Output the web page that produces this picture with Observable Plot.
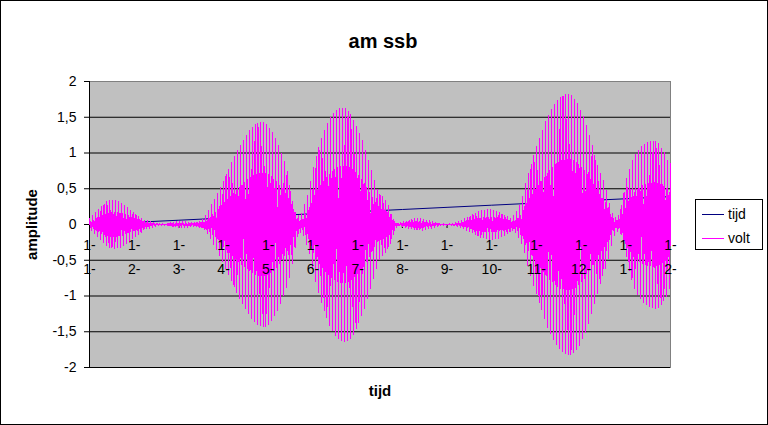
<!DOCTYPE html>
<html><head><meta charset="utf-8">
<script src="https://cdn.jsdelivr.net/npm/d3@7"></script>
<script src="https://cdn.jsdelivr.net/npm/@observablehq/plot@0.6"></script>
<style>
body{margin:0;background:#fff;}
#chart{width:768px;height:425px;}
</style></head><body><div id="chart"></div>
<script>
const chartTitle = "am ssb";
const xTitle = "tijd";
const yTitle = "amplitude";
const seriesNames = ["tijd", "volt"];
const seriesColors = ["#000080", "#ff00ff"];
const tickLabelsTop = ["1-","1-","1-","1-","1-","1-","1-","1-","1-","1-","1-","1-","1-","1-"];
const tickLabelsBottom = ["1-","2-","3-","4-","5-","6-","7-","8-","9-","10-","11-","12-","1-","2-"];
const yTicks = [-2, -1.5, -1, -0.5, 0, 0.5, 1, 1.5, 2];
// tijd read at each category tick
const tijdAtTicks = [0, 0.03, 0.06, 0.09, 0.12, 0.15, 0.18, 0.21, 0.24, 0.27, 0.30, 0.33, 0.36, 0.39];
// volt: peak amplitude read at each tall spike across the plot
const voltEnvelope = [
0.08,0.12,0.17,0.21,0.26,0.29,0.32,0.33,0.34,0.33,
0.32,0.30,0.27,0.24,0.20,0.17,0.14,0.11,0.08,0.06,
0.05,0.04,0.03,0.02,0.01,0.01,0.01,0.02,0.03,0.03,
0.04,0.04,0.04,0.04,0.03,0.03,0.03,0.04,0.05,0.07,
0.13,0.20,0.28,0.35,0.43,0.52,0.61,0.70,0.78,0.87,
0.95,1.03,1.11,1.18,1.25,1.31,1.36,1.40,1.42,1.43,
1.43,1.40,1.35,1.28,1.20,1.10,1.00,0.88,0.74,0.55,
0.33,0.17,0.12,0.15,0.28,0.40,0.60,0.80,0.95,1.09,
1.21,1.31,1.41,1.49,1.55,1.59,1.62,1.63,1.62,1.59,
1.54,1.46,1.37,1.27,1.17,1.03,0.90,0.76,0.62,0.49,
0.43,0.39,0.34,0.27,0.14,0.04,0.02,0.03,0.04,0.05,
0.06,0.07,0.08,0.08,0.08,0.07,0.06,0.05,0.04,0.03,
0.02,0.01,0.01,0.00,0.01,0.02,0.03,0.04,0.06,0.08,
0.10,0.12,0.14,0.16,0.18,0.19,0.20,0.21,0.21,0.20,
0.19,0.17,0.15,0.13,0.11,0.09,0.12,0.18,0.27,0.39,
0.58,0.72,0.85,0.97,1.09,1.20,1.32,1.44,1.53,1.61,
1.68,1.74,1.78,1.80,1.82,1.82,1.80,1.75,1.69,1.60,
1.51,1.39,1.25,1.11,0.97,0.83,0.72,0.62,0.48,0.29,
0.16,0.10,0.13,0.27,0.45,0.64,0.77,0.90,0.98,1.03,
1.09,1.12,1.15,1.16,1.17,1.16,1.13,1.07,1.01,0.90,
0.85];
// shape of one carrier cycle relative to the peak (tall +, short -, short +, tall -)
const voltCycle = [1, -0.5, 0.5, -1];

const nCat = tickLabelsTop.length - 1;
const catTicks = d3.range(nCat + 1);
const nSamples = (voltEnvelope.length - 1) * voltCycle.length;
const volt = d3.range(nSamples + 1).map(i => ({
  x: i / nSamples * nCat,
  v: voltEnvelope[Math.floor(i / voltCycle.length)] * voltCycle[i % voltCycle.length]
}));
const tijd = tijdAtTicks.map((v, i) => ({x: i, v}));

const font = "Liberation Sans, Arial, sans-serif";
const plot = Plot.plot({
  width: 768, height: 425,
  marginLeft: 89, marginRight: 98, marginTop: 81, marginBottom: 58,
  style: {fontFamily: font, fontSize: "14px", background: "white", color: "black", overflow: "visible"},
  x: {domain: [0, nCat], axis: null},
  y: {domain: [-2, 2], axis: null},
  marks: [
    Plot.frame({fill: "#c0c0c0", stroke: "#808080"}),
    Plot.gridY(yTicks.filter(d => d < 2), {stroke: "#000", strokeOpacity: 1}),
    Plot.axisY(yTicks, {label: null, tickSize: 5, tickPadding: 8, fontSize: 14, tickFormat: d => String(d).replace(".", ",")}),
    Plot.ruleX([0], {stroke: "#000"}),
    Plot.ruleY([0], {stroke: "#000"}),
    Plot.ruleX(catTicks, {x: d => d, y1: 0, y2: -0.056, stroke: "#000"}),
    Plot.line(tijd, {x: "x", y: "v", stroke: seriesColors[0], strokeWidth: 1}),
    Plot.line(volt, {x: "x", y: "v", stroke: seriesColors[1], strokeWidth: 1, shapeRendering: "crispEdges"}),
    Plot.text(catTicks, {x: d => d, y: 0, text: i => tickLabelsTop[i], dy: 21, fontSize: 14, fill: "#000"}),
    Plot.text(catTicks, {x: d => d, y: 0, text: i => tickLabelsBottom[i], dy: 45, fontSize: 14, fill: "#000"}),
    Plot.text([chartTitle], {frameAnchor: "top", dx: 3, dy: -48, fontWeight: "bold", fontSize: 20, fill: "#000"}),
    Plot.text([xTitle], {frameAnchor: "bottom", dy: 28, fontWeight: "bold", fontSize: 15, fill: "#000"}),
    Plot.text([yTitle], {frameAnchor: "left", textAnchor: "middle", dx: -57, rotate: -90, fontWeight: "bold", fontSize: 15, fill: "#000"})
  ]
});

const svg = d3.select(plot);
svg.append("rect").attr("x", 0.5).attr("y", 0.5).attr("width", 767).attr("height", 424)
  .attr("fill", "none").attr("stroke", "#000");
const lg = svg.append("g").attr("text-anchor", "start");
lg.append("rect").attr("x", 695.5).attr("y", 199.5).attr("width", 67).attr("height", 50)
  .attr("fill", "white").attr("stroke", "#000");
seriesNames.forEach((name, i) => {
  const y = 214 + i * 24;
  lg.append("line").attr("x1", 702).attr("x2", 724).attr("y1", y + 0.5).attr("y2", y + 0.5)
    .attr("stroke", seriesColors[i]).attr("stroke-width", 1);
  lg.append("text").attr("x", 728).attr("y", y).attr("dy", "0.35em").attr("text-anchor", "start")
    .attr("font-family", font).attr("font-size", 14).attr("fill", "#000").text(name);
});
document.getElementById("chart").appendChild(plot);
</script></body></html>
